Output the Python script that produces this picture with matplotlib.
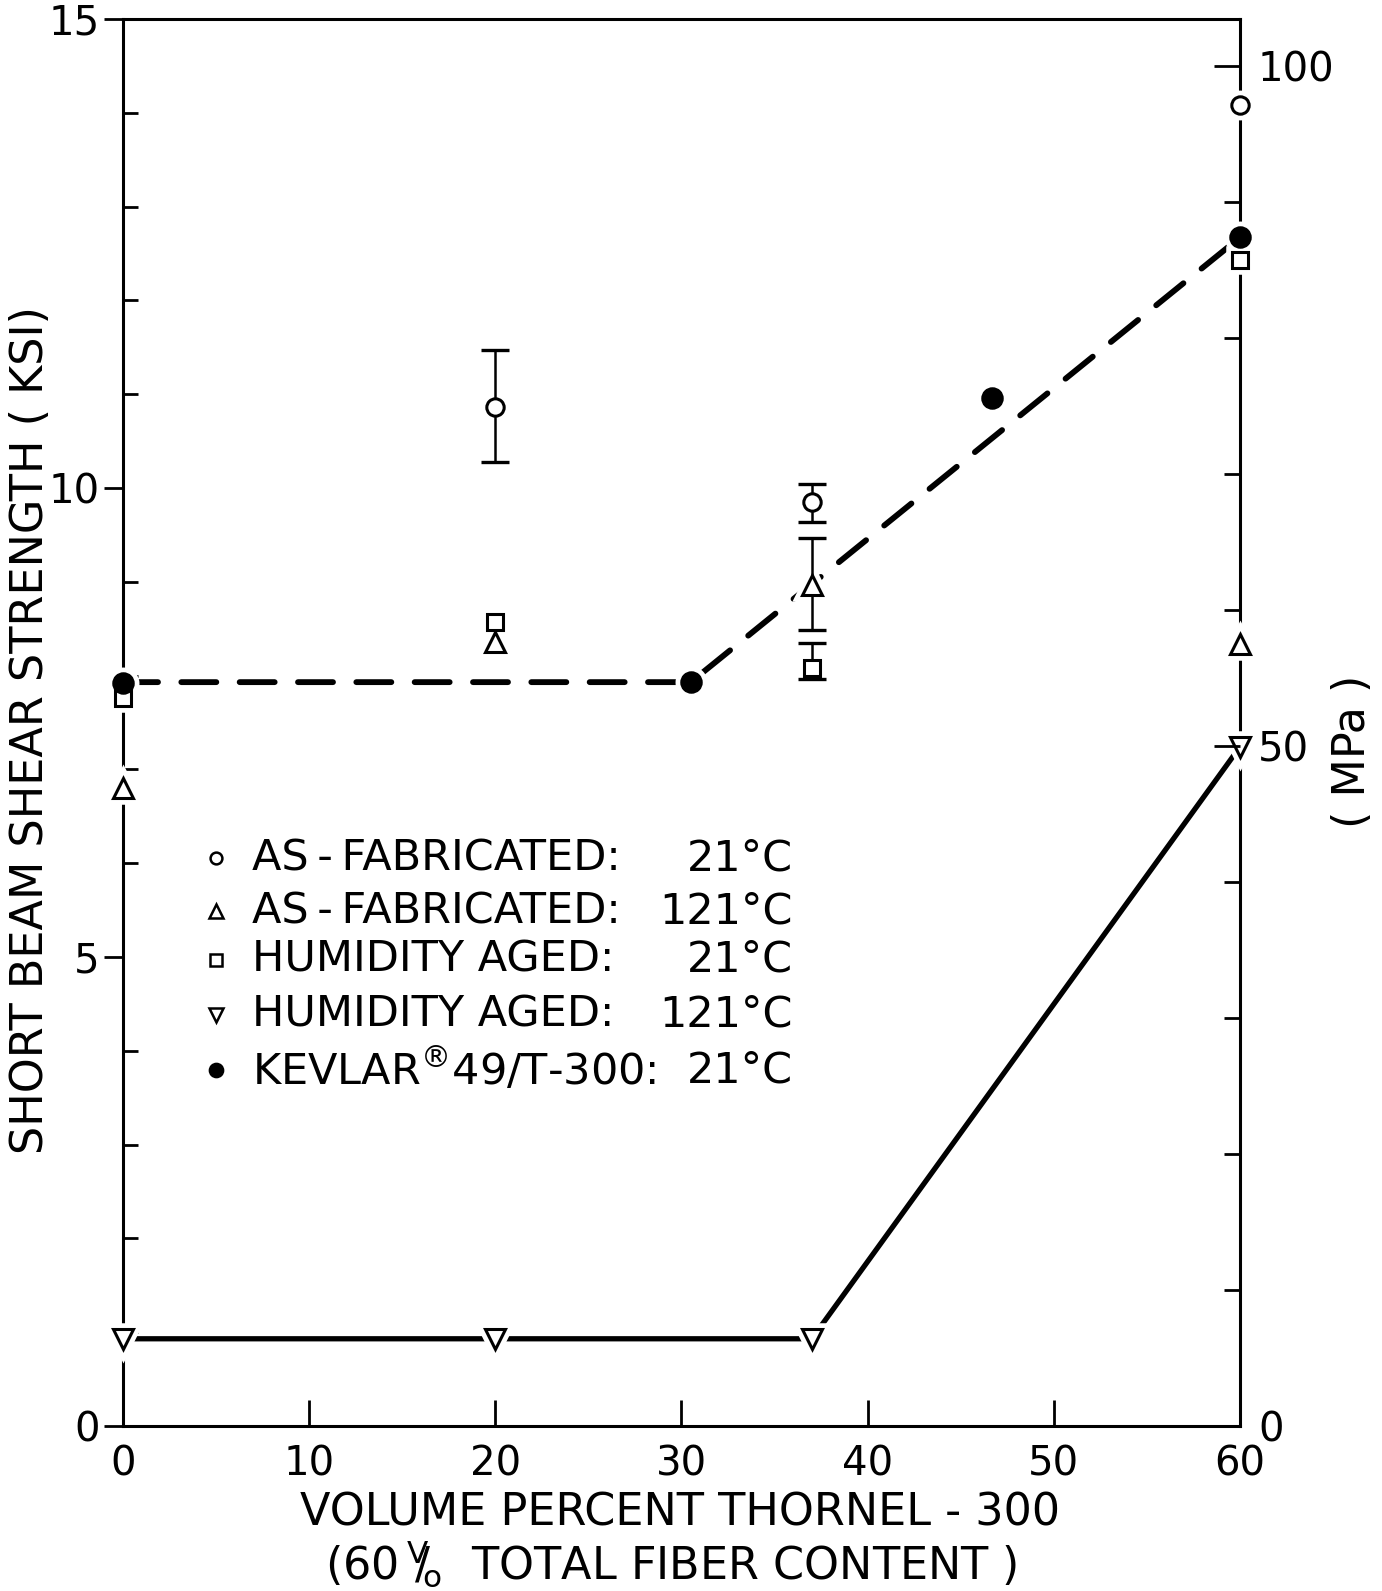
import matplotlib
matplotlib.use("Agg")
import matplotlib.pyplot as plt
from matplotlib.ticker import FixedLocator, MultipleLocator
import numpy as np

plt.rcParams["font.family"] = ["DejaVu Sans"]
plt.rcParams["mathtext.default"] = "regular"

KSI_TO_MPA = 6.895

# Volume percent Thornel-300 and short beam shear strength (ksi)
af21_x = [20, 37, 60]          # as-fabricated, 21 C
af21_y = [10.86, 9.85, 14.08]
af21_bar_x = [20, 37]
af21_bar_lo = [10.28, 9.64]
af21_bar_hi = [11.47, 10.04]

af121_x = [0, 20, 37, 60]      # as-fabricated, 121 C
af121_y = [6.80, 8.36, 8.97, 8.34]
af121_bar_x = [37]
af121_bar_lo = [8.49]
af121_bar_hi = [9.47]

ha21_x = [0, 20, 37, 60]       # humidity aged, 21 C
ha21_y = [7.76, 8.57, 8.08, 12.43]
ha21_bar_x = [37]
ha21_bar_lo = [7.96]
ha21_bar_hi = [8.35]

ha121_x = [0, 20, 37, 60]      # humidity aged, 121 C
ha121_y = [0.93, 0.93, 0.93, 7.24]

kev_x = [0, 30.5, 46.7, 60]    # Kevlar 49 / T-300, 21 C
kev_y = [7.92, 7.93, 10.96, 12.67]
kev_trend_x = [0, 30.5, 60]
kev_trend_y = [7.93, 7.93, 12.67]

x_ticks = [0, 10, 20, 30, 40, 50, 60]
ksi_ticks = [0, 5, 10, 15]
mpa_ticks = [0, 50, 100]

legend_labels = ["AS\u2009-\u2009FABRICATED:", "AS\u2009-\u2009FABRICATED:",
                 "HUMIDITY AGED:", "HUMIDITY AGED:",
                 r"KEVLAR$^{®}$49/T-300:"]
legend_temps = ["21°C", "121°C", "21°C", "121°C", "21°C"]

FS = 32
TFS = 29
INK = "black"

fig = plt.figure(figsize=(13.82, 15.91), dpi=100)
ax = fig.add_axes([0.0890, 0.1037, 0.8082, 0.8844])
ax.set_xlim(0, 60)
ax.set_ylim(0, 15)
for sp in ax.spines.values():
    sp.set_linewidth(2.2)
    sp.set_color(INK)

# trend lines
ax.plot(kev_trend_x, kev_trend_y, color=INK, lw=4.2, dashes=(6, 4),
        dash_capstyle="round", zorder=2, clip_on=False)
ax.plot(ha121_x, ha121_y, color=INK, lw=3.8, solid_capstyle="round",
        zorder=2, clip_on=False)


def points(x, y, marker, size, filled=False, halo=9):
    # white halo opens a gap in lines and spines around each symbol
    ax.plot(x, y, ls="none", marker=marker, ms=size, mfc="white", mec="white",
            mew=halo, zorder=3, clip_on=False)
    ax.plot(x, y, ls="none", marker=marker, ms=size,
            mfc=INK if filled else "white", mec=INK, mew=2.2,
            zorder=5, clip_on=False)


def bars(x, lo, hi):
    lo = np.asarray(lo)
    hi = np.asarray(hi)
    mid = (lo + hi) / 2
    ax.errorbar(x, mid, yerr=(hi - lo) / 2, fmt="none", ecolor=INK,
                elinewidth=1.8, capsize=10, capthick=2.4, zorder=4,
                clip_on=False)


bars(af21_bar_x, af21_bar_lo, af21_bar_hi)
bars(af121_bar_x, af121_bar_lo, af121_bar_hi)
bars(ha21_bar_x, ha21_bar_lo, ha21_bar_hi)

points(af21_x, af21_y, "o", 12.5)
points(af121_x, af121_y, "^", 15)
points(ha21_x, ha21_y, "s", 11)
points(ha121_x, ha121_y, "v", 15)
points(kev_x, kev_y, "o", 14, filled=True)

# bottom axis
ax.xaxis.set_major_locator(FixedLocator(x_ticks))
ax.tick_params(axis="x", which="major", direction="in", length=19, width=2.0,
               pad=13, labelsize=TFS, top=False)

# left axis (ksi)
ax.yaxis.set_major_locator(FixedLocator(ksi_ticks))
ax.yaxis.set_minor_locator(MultipleLocator(1))
ax.tick_params(axis="y", which="major", direction="out", length=14, width=2.0,
               pad=3, labelsize=TFS, right=False)
ax.tick_params(axis="y", which="minor", direction="in", length=11, width=2.0,
               right=False)
for t in ax.yaxis.get_major_ticks():
    if t.get_loc() in (0, 15):
        t.tick1line.set_visible(False)

# right axis (MPa)
ax2 = ax.twinx()
ax2.set_ylim(0, 15 * KSI_TO_MPA)
for sp in ax2.spines.values():
    sp.set_visible(False)
ax2.yaxis.set_major_locator(FixedLocator(mpa_ticks))
ax2.yaxis.set_minor_locator(MultipleLocator(10))
ax2.tick_params(axis="y", which="major", direction="in", length=19, width=2.0,
                pad=13, labelsize=TFS)
ax2.tick_params(axis="y", which="minor", direction="in", length=11.5, width=2.0)

# axis titles
fig.text(0.022, 0.541, "SHORT BEAM SHEAR STRENGTH ( KSI)", rotation=90,
         ha="center", va="center", fontsize=FS)
fig.text(0.979, 0.528, "( MPa )", rotation=90, ha="center", va="center",
         fontsize=FS)
fig.text(0.492, 0.049, "VOLUME PERCENT THORNEL - 300", ha="center",
         va="center", fontsize=FS)
fig.text(0.486, 0.017,
         r"(60$\,^{V}\!\!/\!_{o}$  TOTAL FIBER CONTENT )",
         ha="center", va="center", fontsize=FS)

# key
key_markers = [("o", 8.5, False), ("^", 10, False), ("s", 8, False),
               ("v", 10, False), ("o", 9.5, True)]
key_rows = [0.4034, 0.3659, 0.3313, 0.2923, 0.2527]
for (m, s, f), yy, lab, tmp in zip(key_markers, key_rows, legend_labels,
                                    legend_temps):
    ax.plot([0.0833], [yy], transform=ax.transAxes, ls="none", marker=m,
            ms=s, mfc=INK if f else "white", mec=INK, mew=1.8, zorder=5)
    ax.text(0.1151, yy, lab, transform=ax.transAxes, ha="left",
            va="center", fontsize=31)
    ax.text(0.600, yy, tmp, transform=ax.transAxes, ha="right",
            va="center", fontsize=31)

fig.savefig("out.png", dpi=100, facecolor="white")
